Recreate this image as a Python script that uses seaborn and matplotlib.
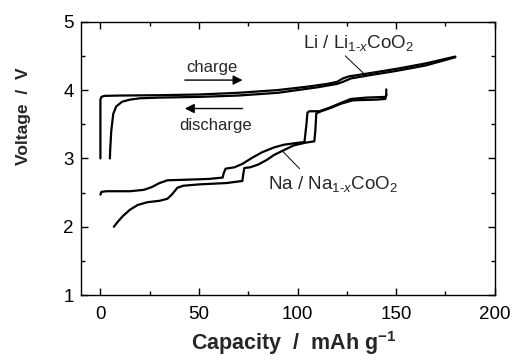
import numpy as np
import pandas as pd
import matplotlib
matplotlib.use('Agg')
import matplotlib.pyplot as plt
from matplotlib.ticker import MultipleLocator
import seaborn as sns

# Li / Li1-xCoO2 first cycle
li_chg_x = [0, 0, 0.5, 2, 10, 30, 50, 70, 90, 105, 115, 120, 123, 126, 135, 150, 165, 180]
li_chg_v = [3.0, 3.86, 3.90, 3.915, 3.92, 3.925, 3.935, 3.96, 4.0, 4.05, 4.09, 4.12, 4.17, 4.20, 4.24, 4.31, 4.39, 4.49]
li_dis_x = [180, 165, 150, 135, 127, 123, 120, 110, 90, 70, 50, 30, 20, 15, 11, 8, 6.5, 5.5, 5, 4.8]
li_dis_v = [4.48, 4.36, 4.28, 4.21, 4.17, 4.12, 4.09, 4.04, 3.96, 3.92, 3.90, 3.89, 3.88, 3.86, 3.83, 3.76, 3.65, 3.40, 3.15, 3.0]

# Na / Na1-xCoO2 first cycle
na_chg_x = [0, 0.5, 3, 15, 22, 26, 30, 34, 45, 55, 62, 62.5, 63.5, 68, 72, 77, 82, 88, 93, 98,
            103.5, 104.5, 105, 106, 111, 116, 121, 127, 135, 144.5, 145, 145]
na_chg_v = [2.47, 2.51, 2.52, 2.52, 2.54, 2.58, 2.64, 2.68, 2.69, 2.70, 2.72, 2.78, 2.85, 2.87, 2.92, 3.01, 3.09, 3.16, 3.20, 3.22,
            3.24, 3.50, 3.67, 3.69, 3.69, 3.74, 3.80, 3.87, 3.89, 3.90, 3.92, 4.01]
na_dis_x = [145, 144.5, 140, 128, 122, 117, 112, 109.5, 109, 108.5, 104, 98, 93, 88, 84.5, 80, 76, 73, 72.5, 72,
            64, 50, 42, 39, 36.5, 34, 30, 24, 19, 15, 11.5, 9, 6.8]
na_dis_v = [3.93, 3.87, 3.86, 3.85, 3.80, 3.74, 3.69, 3.66, 3.40, 3.25, 3.23, 3.19, 3.12, 3.05, 2.98, 2.91, 2.87, 2.86, 2.78, 2.67,
            2.64, 2.62, 2.60, 2.57, 2.48, 2.41, 2.38, 2.36, 2.32, 2.25, 2.16, 2.08, 2.0]

curves = [(li_chg_x, li_chg_v), (li_dis_x, li_dis_v), (na_chg_x, na_chg_v), (na_dis_x, na_dis_v)]

sns.set_theme(style='ticks')
plt.rcParams['font.family'] = ['Liberation Sans', 'DejaVu Sans']
plt.rcParams['mathtext.fontset'] = 'custom'
plt.rcParams['mathtext.rm'] = 'Liberation Sans'
plt.rcParams['mathtext.it'] = 'Liberation Sans:italic'
plt.rcParams['mathtext.bf'] = 'Liberation Sans:bold'

fig = plt.figure(figsize=(5.14, 3.56), dpi=100)
ax = fig.add_axes([0.157, 0.171, 0.8055, 0.768])

for cx, cv in curves:
    sns.lineplot(x=cx, y=cv, sort=False, estimator=None, color='black', lw=1.6, ax=ax)

ax.set_xlim(-10, 200)
ax.set_ylim(1, 5)
ax.xaxis.set_major_locator(MultipleLocator(50))
ax.xaxis.set_minor_locator(MultipleLocator(25))
ax.yaxis.set_major_locator(MultipleLocator(1))
ax.yaxis.set_minor_locator(MultipleLocator(0.5))
ax.tick_params(which='both', direction='in', top=True, right=True, colors='black',
               labelsize=13.5, width=1)
ax.tick_params(which='major', length=5)
ax.tick_params(which='minor', length=3)
ax.tick_params(axis='x', pad=8)
ax.tick_params(axis='y', pad=5)
for s in ax.spines.values():
    s.set_color('black')
    s.set_linewidth(1)

ax.set_xlabel(r'Capacity  /  mAh g$^{\mathbf{-1}}$', fontsize=15.5, fontweight='bold')
ax.set_ylabel('Voltage  /  V', fontsize=12.5, fontweight='bold')
ax.xaxis.set_label_coords(0.515, -0.125)
ax.yaxis.set_label_coords(-0.12, 0.655)

# charge / discharge arrows
ax.annotate('', xy=(73.5, 4.146), xytext=(41.4, 4.146),
            arrowprops=dict(arrowstyle='-|>', color='black', lw=1, mutation_scale=14))
ax.annotate('', xy=(41.4, 3.73), xytext=(73.5, 3.73),
            arrowprops=dict(arrowstyle='-|>', color='black', lw=1, mutation_scale=14))
ax.text(56.6, 4.26, 'charge', fontsize=12, ha='center', va='baseline')
ax.text(58.5, 3.41, 'discharge', fontsize=12, ha='center', va='baseline')

# curve labels
ax.plot([124.2, 133.3], [4.50, 4.25], color='black', lw=0.7)
ax.text(103, 4.61, r'Li / Li$_{\text{1-}\mathit{x}}$CoO$_\mathrm{2}$', fontsize=13.5, ha='left', va='baseline')
ax.plot([92.6, 101], [3.10, 2.85], color='black', lw=0.7)
ax.text(85, 2.546, r'Na / Na$_{\text{1-}\mathit{x}}$CoO$_\mathrm{2}$', fontsize=13.5, ha='left', va='baseline')

fig.savefig('out.png', dpi=100)
